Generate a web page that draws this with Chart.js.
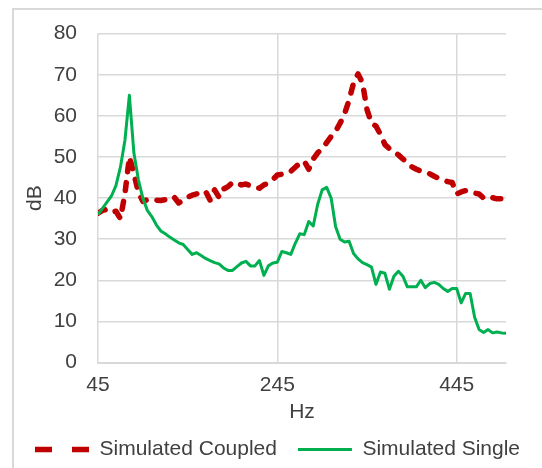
<!DOCTYPE html>
<html>
<head>
<meta charset="utf-8">
<script src="https://cdn.jsdelivr.net/npm/chart.js@4"></script>
<style>
  html, body { margin: 0; padding: 0; background: #fff; overflow: hidden; }
  #frame {
    position: absolute; left: 12px; top: 8px; width: 600px; height: 520px;
    border-top: 2px solid #d9d9d9; border-left: 2px solid #d9d9d9;
  }
  #chart { position: absolute; left: 0; top: 0; }
</style>
</head>
<body>
<div id="frame"></div>
<canvas id="chart" width="542" height="480"></canvas>
<script>
// Frequency (Hz) of each sample
const hz = [
  45, 50, 55, 60, 65, 70, 75, 80, 85, 90, 95, 100, 105, 110, 115, 120, 125, 130, 135, 140,
  145, 150, 155, 160, 165, 170, 175, 180, 185, 190, 195, 200, 205, 210, 215, 220, 225, 230, 235, 240,
  245, 250, 255, 260, 265, 270, 275, 280, 285, 290, 295, 300, 305, 310, 315, 320, 325, 330, 335, 340,
  345, 350, 355, 360, 365, 370, 375, 380, 385, 390, 395, 400, 405, 410, 415, 420, 425, 430, 435, 440,
  445, 450, 455, 460, 465, 470, 475, 480, 485, 490, 495, 500
];

// Simulated Coupled (dB)
const coupled = [
  36.3, 37, 37.2, 36.5, 36.8, 35, 41, 50, 46, 41.4, 39.2, 39.6, 39.8, 39.5, 39.4, 39.6, 40.3, 40.2, 38.8, 39.5,
  40.2, 40.7, 41, 41.6, 41.6, 39.5, 42, 40.2, 42.2, 42.8, 43.8, 43.6, 43.2, 43.4, 43, 42.5, 42.4, 43.2, 43.6, 44.5,
  45.6, 45.8, 46.2, 46.5, 47.5, 48.5, 49, 47, 49.5, 51, 52, 53.5, 55, 56.3, 58.2, 60.5, 63.8, 68, 70.2, 68,
  61.5, 58.2, 57.5, 55.5, 53, 52, 51.3, 50.5, 49.5, 48.6, 47.6, 47, 46.6, 46.3, 45.9, 45.3, 44.8, 44.4, 44, 43.8,
  41, 41.5, 41.8, 41.6, 41.2, 41, 40, 40.4, 40.1, 39.8, 39.8, 39.6
];

// Simulated Single (dB)
const single = [
  36, 37.5, 39, 40.5, 43, 47.5, 54, 65, 51, 44.5, 40, 37, 35.5, 33.5, 32, 31.3, 30.5, 29.8, 29.1, 28.7,
  27.5, 26.3, 26.7, 26, 25.3, 24.8, 24.3, 24, 23, 22.4, 22.4, 23.3, 24.2, 24.6, 23.5, 23.5, 24.8, 21.2, 23.5, 24.2,
  24.4, 27, 26.7, 26.3, 29, 31.3, 31.1, 34.3, 33.2, 38.5, 42, 42.6, 40, 33, 30, 29.3, 29.5, 26.5, 25.2, 24.3,
  23.8, 23.2, 19, 22, 21.7, 17.8, 21, 22.2, 21, 18.4, 18.4, 18.4, 20, 18.2, 19.2, 19.5, 19, 18, 17.3, 18,
  18, 14.5, 16.8, 16.8, 11, 8, 7.3, 8, 7.2, 7.4, 7.2, 7.1
];

const xTicks = [45, 245, 445];
const seriesNames = ["Simulated Coupled", "Simulated Single"];

const textColor = "#404040";
const gridColor = "#d9d9d9";
const baseFont = { family: "'Liberation Sans', Arial, sans-serif", size: 21 };

function toPoints(values) {
  return values.map((v, i) => ({ x: hz[i], y: v }));
}

new Chart(document.getElementById("chart"), {
  type: "line",
  data: {
    datasets: [
      {
        label: seriesNames[0],
        data: toPoints(coupled),
        borderColor: "#c00000",
        backgroundColor: "#c00000",
        borderWidth: 5.5,
        borderDash: [8, 11],
        borderCapStyle: "round",
        borderJoinStyle: "round",
        pointRadius: 0,
        tension: 0,
        order: 1,
      },
      {
        label: seriesNames[1],
        data: toPoints(single),
        borderColor: "#00b050",
        backgroundColor: "#00b050",
        borderWidth: 3,
        borderCapStyle: "butt",
        borderJoinStyle: "round",
        pointRadius: 0,
        tension: 0,
        order: 0,
      },
    ],
  },
  options: {
    responsive: false,
    animation: false,
    devicePixelRatio: 1,
    layout: { padding: { left: 14, top: 25, right: 0, bottom: 10 } },
    scales: {
      x: {
        type: "linear",
        min: 45,
        max: 500,
        afterBuildTicks: (scale) => {
          scale.ticks = xTicks.map((v) => ({ value: v }));
        },
        afterFit: (scale) => {
          scale.height = 55.5;
        },
        grid: { color: gridColor, lineWidth: 1.5, drawTicks: false },
        border: { color: gridColor, width: 2 },
        ticks: { color: textColor, font: baseFont, padding: 10, maxRotation: 0 },
        title: { display: true, text: "Hz", color: textColor, font: baseFont, padding: { top: 0, bottom: -7 } },
      },
      y: {
        min: 0,
        max: 80,
        afterFit: (scale) => {
          scale.width = 84;
        },
        grid: { color: gridColor, lineWidth: 1.5, drawTicks: false },
        border: { display: false },
        ticks: { stepSize: 10, color: textColor, font: baseFont, padding: 21 },
        title: { display: true, text: "dB", color: textColor, font: baseFont, padding: { top: 9, bottom: 0 } },
      },
      // empty right-hand box so the plot stops short of the canvas edge
      yRight: {
        position: "right",
        afterFit: (scale) => {
          scale.width = 36;
        },
        grid: { display: false },
        border: { display: false },
        ticks: { display: false },
      },
    },
    plugins: {
      tooltip: { enabled: false },
      legend: {
        display: true,
        position: "bottom",
        align: "start",
        labels: {
          usePointStyle: true,
          pointStyle: "line",
          pointStyleWidth: 54,
          color: textColor,
          font: baseFont,
          padding: 21,
          sort: (a, b) => a.datasetIndex - b.datasetIndex,
          generateLabels: function (chart) {
            const items = Chart.defaults.plugins.legend.labels.generateLabels(chart);
            items.forEach((item) => {
              if (item.datasetIndex === 0) item.lineDash = [17, 20];
            });
            return items;
          },
        },
      },
    },
  },
});
</script>
</body>
</html>
